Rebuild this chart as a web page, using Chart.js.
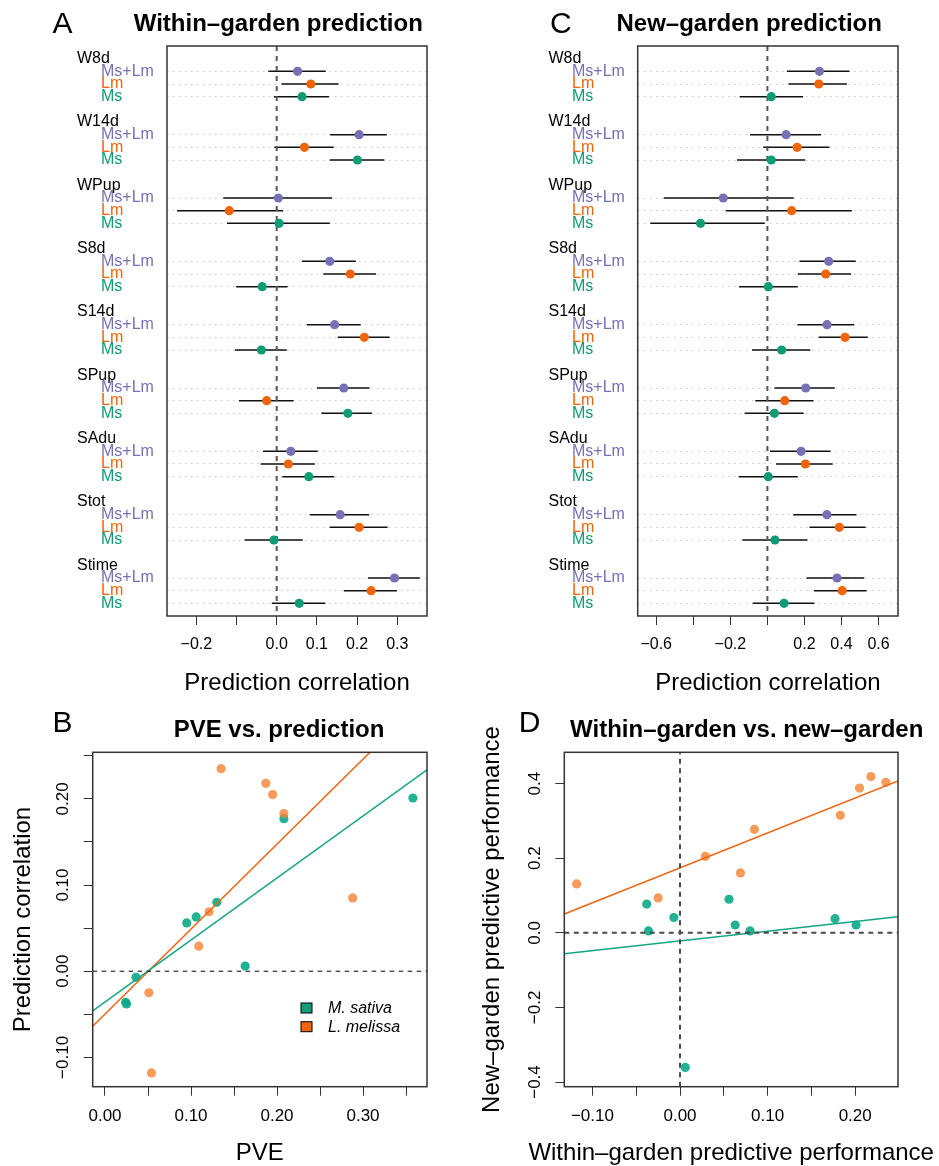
<!DOCTYPE html>
<html><head><meta charset="utf-8">
<script src="https://cdn.jsdelivr.net/npm/chart.js@4/dist/chart.umd.min.js"></script>
<style>
html,body{margin:0;padding:0;background:#fff}
body{width:939px;height:1166px;position:relative;overflow:hidden}
canvas{position:absolute}
</style></head>
<body>
<canvas id="cA" width="470" height="700" style="left:0;top:0"></canvas>
<canvas id="cC" width="469" height="700" style="left:470px;top:0"></canvas>
<canvas id="cB" width="470" height="466" style="left:0;top:700px"></canvas>
<canvas id="cD" width="469" height="466" style="left:470px;top:700px"></canvas>
<script>
const FONT = "'Liberation Sans', Arial, Helvetica, sans-serif";
Chart.defaults.font.family = FONT;

// ---------- data ----------
const traits = ['W8d','W14d','WPup','S8d','S14d','SPup','SAdu','Stot','Stime'];
const models = ['Ms+Lm','Lm','Ms'];
const modelColors = ['#7670B5','#F0650A','#0F9B74'];

// Within-garden prediction (panel A)
const withinMsLm   = [0.052, 0.205, 0.004, 0.132, 0.144, 0.167, 0.035, 0.158, 0.293];
const withinMsLmLo = [-0.021, 0.133, -0.133, 0.063, 0.075, 0.100, -0.034, 0.082, 0.227];
const withinMsLmHi = [0.122, 0.274, 0.138, 0.197, 0.209, 0.231, 0.102, 0.230, 0.356];
const withinLm     = [0.085, 0.069, -0.118, 0.183, 0.218, -0.025, 0.029, 0.205, 0.235];
const withinLmLo   = [0.012, -0.006, -0.248, 0.116, 0.152, -0.094, -0.040, 0.132, 0.167];
const withinLmHi   = [0.154, 0.142, 0.016, 0.247, 0.281, 0.042, 0.095, 0.276, 0.299];
const withinMs     = [0.063, 0.201, 0.006, -0.036, -0.038, 0.177, 0.080, -0.007, 0.056];
const withinMsLo   = [-0.007, 0.132, -0.124, -0.101, -0.104, 0.111, 0.014, -0.080, -0.012];
const withinMsHi   = [0.130, 0.268, 0.132, 0.027, 0.025, 0.237, 0.143, 0.065, 0.121];

// New-garden prediction (panel C)
const newMsLm   = [0.281, 0.101, -0.238, 0.331, 0.322, 0.207, 0.182, 0.321, 0.376];
const newMsLmLo = [0.105, -0.094, -0.559, 0.173, 0.162, 0.038, 0.014, 0.139, 0.211];
const newMsLmHi = [0.443, 0.290, 0.142, 0.477, 0.468, 0.364, 0.341, 0.481, 0.523];
const newLm     = [0.2775, 0.1605, 0.131, 0.315, 0.419, 0.0935, 0.205, 0.388, 0.4035];
const newLmLo   = [0.114, -0.023, -0.225, 0.164, 0.277, -0.065, 0.047, 0.227, 0.252];
const newLmHi   = [0.429, 0.335, 0.456, 0.452, 0.542, 0.249, 0.353, 0.530, 0.535];
const newMs     = [0.021, 0.021, -0.361, 0.005, 0.077, 0.038, 0.005, 0.041, 0.090];
const newMsLo   = [-0.150, -0.164, -0.632, -0.153, -0.083, -0.123, -0.155, -0.135, -0.079];
const newMsHi   = [0.193, 0.204, -0.014, 0.164, 0.232, 0.196, 0.164, 0.216, 0.254];

// PVE (panel B)
const pveMs = [0.106, 0.358, 0.163, 0.024, 0.025, 0.208, 0.130, 0.036, 0.095];
const pveLm = [0.288, 0.121, 0.054, 0.208, 0.187, 0.051, 0.109, 0.195, 0.135];

const legendLabels = ['M. sativa', 'L. melissa'];

// ticks
const ticksA = [-0.2,-0.1,0,0.1,0.2,0.3];
const tickLabelsA = ['\u22120.2','','0.0','0.1','0.2','0.3'];
const ticksC = [-0.6,-0.4,-0.2,0,0.2,0.4,0.6];
const tickLabelsC = ['\u22120.6','','\u22120.2','','0.2','0.4','0.6'];
const ticksBx = [0,0.05,0.1,0.15,0.2,0.25,0.3,0.35];
const tickLabelsBx = ['0.00','','0.10','','0.20','','0.30',''];
const ticksBy = [-0.1,-0.05,0,0.05,0.1,0.15,0.2,0.25];
const tickLabelsBy = ['\u22120.10','','0.00','','0.10','','0.20',''];
const ticksDx = [-0.1,-0.05,0,0.05,0.1,0.15,0.2];
const tickLabelsDx = ['\u22120.10','','0.00','','0.10','','0.20'];
const ticksDy = [-0.4,-0.2,0,0.2,0.4];
const tickLabelsDy = ['\u22120.4','\u22120.2','0.0','0.2','0.4'];

// ---------- helpers ----------
function txt(ctx, s, x, y, font, color, align, rot) {
  ctx.save();
  ctx.font = font; ctx.fillStyle = color || '#000';
  ctx.textAlign = align || 'center'; ctx.textBaseline = 'middle';
  ctx.translate(x, y);
  if (rot) ctx.rotate(rot);
  ctx.fillText(s, 0, 0);
  ctx.restore();
}
function ols(xs, ys) {
  const n = xs.length;
  const mx = xs.reduce((a,b)=>a+b,0)/n, my = ys.reduce((a,b)=>a+b,0)/n;
  let sxy = 0, sxx = 0;
  for (let i=0;i<n;i++){ sxy += (xs[i]-mx)*(ys[i]-my); sxx += (xs[i]-mx)*(xs[i]-mx); }
  const b = sxy/sxx; return {a: my - b*mx, b};
}
function makeDeco(spec) {
  return {
    id: 'deco',
    beforeDatasetsDraw(chart) {
      if (!spec.errorBars) return;
      const {ctx, chartArea: ca} = chart; const x = chart.scales.x, y = chart.scales.y;
      ctx.save();
      ctx.beginPath(); ctx.rect(ca.left, ca.top, ca.right-ca.left, ca.bottom-ca.top); ctx.clip();
      ctx.strokeStyle = '#111'; ctx.lineWidth = 1.5; ctx.beginPath();
      spec.errorBars.forEach(s => s.lo.forEach((lo, i) => {
        const py = y.getPixelForValue(s.rows[i]);
        ctx.moveTo(x.getPixelForValue(lo), py);
        ctx.lineTo(x.getPixelForValue(s.hi[i]), py);
      }));
      ctx.stroke(); ctx.restore();
    },
    afterDraw(chart) {
      const {ctx, chartArea: ca} = chart; const y = chart.scales.y;
      ctx.save(); ctx.strokeStyle = '#333'; ctx.lineWidth = 1.5;
      ctx.strokeRect(ca.left, ca.top, ca.right-ca.left, ca.bottom-ca.top); ctx.restore();
      txt(ctx, spec.letter[0], spec.letter[1], spec.letter[2], '30px '+FONT);
      ctx.save(); ctx.font = 'bold 24px '+FONT; ctx.textAlign='center'; ctx.textBaseline='alphabetic';
      ctx.fillStyle='#000'; ctx.fillText(spec.title[0], spec.title[1], spec.title[2]); ctx.restore();
      txt(ctx, spec.xTitle[0], (ca.left+ca.right)/2, spec.xTitle[1], '24px '+FONT);
      if (spec.yTitle) txt(ctx, spec.yTitle[0], spec.yTitle[1], (ca.top+ca.bottom)/2, '24px '+FONT, '#000', 'center', -Math.PI/2);
      if (spec.rows) {
        traits.forEach((t, g) => {
          txt(ctx, t, spec.rows.traitX, y.getPixelForValue(g*5), '16px '+FONT, '#000', 'left');
          models.forEach((m, k) => txt(ctx, m, spec.rows.modelX, y.getPixelForValue(g*5+k+1), '16px '+FONT, modelColors[k], 'left'));
        });
      }
      if (spec.yTicks) {
        spec.yTicks.vals.forEach((v, i) => {
          const l = spec.yTicks.labels[i];
          if (l) txt(ctx, l, spec.yTicks.x, y.getPixelForValue(v), '17px '+FONT, '#000', 'center', -Math.PI/2);
        });
      }
      if (spec.legend) {
        const L = spec.legend;
        L.items.forEach((it, i) => {
          ctx.save(); ctx.fillStyle = it.color; ctx.strokeStyle = '#000'; ctx.lineWidth = 1;
          ctx.fillRect(L.x, it.y-5, 11, 10); ctx.strokeRect(L.x, it.y-5, 11, 10); ctx.restore();
          txt(ctx, it.label, L.tx, it.y+1, 'italic 16px '+FONT, '#000', 'left');
        });
      }
    }
  };
}
function xAxis(min, max, ticks, labels, height, size, pad) {
  return {
    type: 'linear', bounds: 'data', min, max,
    afterBuildTicks: ax => { ax.ticks = ticks.map(v => ({value: v})); },
    ticks: {autoSkip: false, maxRotation: 0, minRotation: 0, padding: pad, color: '#000',
            font: {size, family: FONT}, callback: (v, i) => labels[i]},
    grid: {drawOnChartArea: false, drawTicks: true, tickLength: 9, color: '#333', lineWidth: 1},
    border: {display: false},
    afterFit: ax => { ax.height = height; }
  };
}

// ---------- dot panels (A, C) ----------
function dotPanel(id, vals, los, his, xmin, xmax, ticks, labels, rightPad, yWidth, spec) {
  const rowsData = [];
  traits.forEach((t, g) => models.forEach((m, k) => rowsData.push(g*5+k+1)));
  const datasets = models.map((m, k) => ({
    label: m,
    data: vals[k].map((v, g) => ({x: v, y: g*5+k+1})),
    backgroundColor: modelColors[k], borderColor: modelColors[k], borderWidth: 0,
    pointRadius: 4.6, order: 0
  }));
  datasets.push({label: 'zero', data: [{x: 0, y: -1}, {x: 0, y: 44}], showLine: true,
    borderColor: '#555', borderWidth: 2, borderDash: [5, 5], pointRadius: 0, order: 5});
  spec.errorBars = models.map((m, k) => ({lo: los[k], hi: his[k], rows: traits.map((t, g) => g*5+k+1)}));
  new Chart(document.getElementById(id), {
    type: 'scatter',
    data: {datasets},
    options: {
      responsive: false, animation: false, events: [],
      layout: {padding: {top: 46, right: rightPad, left: 0, bottom: 0}},
      plugins: {legend: {display: false}, tooltip: {enabled: false}},
      scales: {
        x: xAxis(xmin, xmax, ticks, labels, 84, 16, 10),
        y: {
          type: 'linear', bounds: 'data', reverse: true, min: -1, max: 44,
          afterBuildTicks: ax => { ax.ticks = rowsData.map(v => ({value: v})); },
          ticks: {display: false},
          grid: {drawTicks: false, color: '#c8c8c8', lineWidth: 1},
          border: {display: false, dash: [1.5, 4.5]},
          afterFit: ax => { ax.width = yWidth; }
        }
      }
    },
    plugins: [makeDeco(spec)]
  });
}

dotPanel('cA', [withinMsLm, withinLm, withinMs], [withinMsLmLo, withinLmLo, withinMsLo],
  [withinMsLmHi, withinLmHi, withinMsHi], -0.273, 0.374, ticksA, tickLabelsA, 43, 167,
  {letter: ['A', 62.5, 25], title: ['Within\u2013garden prediction', 278.3, 30.7],
   xTitle: ['Prediction correlation', 683], rows: {traitX: 77, modelX: 101}});

dotPanel('cC', [newMsLm, newLm, newMs], [newMsLmLo, newLmLo, newMsLo],
  [newMsLmHi, newLmHi, newMsHi], -0.700, 0.705, ticksC, tickLabelsC, 41, 167.7,
  {letter: ['C', 90.9, 25], title: ['New\u2013garden prediction', 279.2, 30.7],
   xTitle: ['Prediction correlation', 683], rows: {traitX: 78.5, modelX: 102}});

// ---------- scatter panels (B, D) ----------
const teal = 'rgba(10,170,135,0.9)', orange = 'rgba(245,130,50,0.8)';
const tealLine = '#13A584', orangeLine = '#F06412';

function scatterPanel(id, xsMs, ysMs, xsLm, ysLm, xr, yr, tx, ty, leftW, rightPad, zeroLines, spec) {
  const fMs = ols(xsMs, ysMs), fLm = ols(xsLm, ysLm);
  const datasets = [
    {label: 'Lm', data: xsLm.map((x, i) => ({x, y: ysLm[i]})), backgroundColor: orange, borderWidth: 0, pointRadius: 4.6, order: 2},
    {label: 'Ms', data: xsMs.map((x, i) => ({x, y: ysMs[i]})), backgroundColor: teal, borderWidth: 0, pointRadius: 4.6, order: 3},
    {label: 'fitMs', data: [{x: xr[0], y: fMs.a + fMs.b*xr[0]}, {x: xr[1], y: fMs.a + fMs.b*xr[1]}], showLine: true,
      borderColor: tealLine, borderWidth: 1.5, pointRadius: 0, order: 1},
    {label: 'fitLm', data: [{x: xr[0], y: fLm.a + fLm.b*xr[0]}, {x: xr[1], y: fLm.a + fLm.b*xr[1]}], showLine: true,
      borderColor: orangeLine, borderWidth: 1.5, pointRadius: 0, order: 1}
  ];
  zeroLines.forEach(z => datasets.push(Object.assign({showLine: true, pointRadius: 0, order: 0}, z)));
  new Chart(document.getElementById(id), {
    type: 'scatter',
    data: {datasets},
    options: {
      responsive: false, animation: false, events: [],
      layout: {padding: {top: 52.3, right: rightPad, left: 0, bottom: 0}},
      plugins: {legend: {display: false}, tooltip: {enabled: false}},
      scales: {
        x: xAxis(xr[0], xr[1], tx[0], tx[1], 79.3, 17, 10.8),
        y: {
          type: 'linear', bounds: 'data', min: yr[0], max: yr[1],
          afterBuildTicks: ax => { ax.ticks = ty[0].map(v => ({value: v})); },
          ticks: {display: false},
          grid: {drawOnChartArea: false, drawTicks: true, tickLength: 9, color: '#333', lineWidth: 1},
          border: {display: false},
          afterFit: ax => { ax.width = leftW; }
        }
      }
    },
    plugins: [makeDeco(spec)]
  });
}

const bX = [-0.0143, 0.3744], bY = [-0.134, 0.254];
scatterPanel('cB', pveMs, withinMs, pveLm, withinLm, bX, bY, [ticksBx, tickLabelsBx], [ticksBy, tickLabelsBy], 92.7, 43,
  [{label: 'h0', data: [{x: bX[0], y: 0}, {x: bX[1], y: 0}], borderColor: '#000', borderWidth: 1, borderDash: [4.5, 4.5]}],
  {letter: ['B', 62.5, 24], title: ['PVE vs. prediction', 279, 37.3], xTitle: ['PVE', 453.3],
   yTitle: ['Prediction correlation', 23], yTicks: {vals: ticksBy, labels: tickLabelsBy, x: 63.3},
   legend: {x: 301, tx: 328, items: [{label: legendLabels[0], color: '#14A07C', y: 308}, {label: legendLabels[1], color: '#F2650D', y: 326.7}]}});

const dX = [-0.1321, 0.2489], dY = [-0.4126, 0.484];
scatterPanel('cD', withinMs, newMs, withinLm, newLm, dX, dY, [ticksDx, tickLabelsDx], [ticksDy, tickLabelsDy], 94.3, 41,
  [{label: 'h0', data: [{x: dX[0], y: 0}, {x: dX[1], y: 0}], borderColor: '#4a4a4a', borderWidth: 2, borderDash: [5, 4.5]},
   {label: 'v0', data: [{x: 0, y: dY[0]}, {x: 0, y: dY[1]}], borderColor: '#4a4a4a', borderWidth: 2, borderDash: [5, 4.5]}],
  {letter: ['D', 59.7, 24], title: ['Within\u2013garden vs. new\u2013garden', 276.7, 37.3],
   xTitle: ['Within\u2013garden predictive performance', 453.3],
   yTitle: ['New\u2013garden predictive performance', 22], yTicks: {vals: ticksDy, labels: tickLabelsDy, x: 65}});
</script>
</body></html>
